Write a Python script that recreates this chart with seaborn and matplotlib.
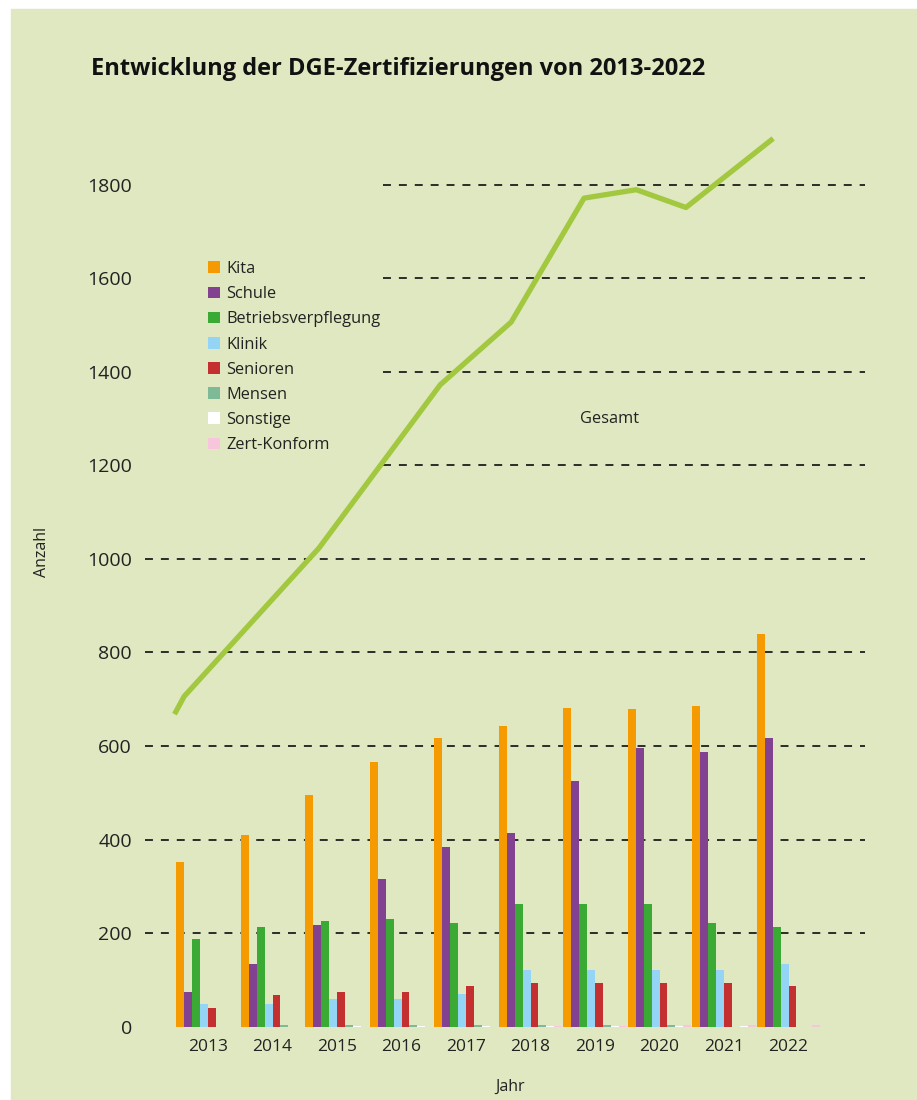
import pandas as pd
import matplotlib.pyplot as plt
import seaborn as sns
from matplotlib.patches import Rectangle

# Daten
jahre = ['2013', '2014', '2015', '2016', '2017', '2018', '2019', '2020', '2021', '2022']
kita = [352, 410, 495, 565, 617, 643, 681, 679, 685, 840]
schule = [74, 134, 217, 316, 384, 414, 526, 596, 587, 617]
betrieb = [187, 213, 226, 230, 222, 262, 262, 262, 222, 213]
klinik = [48, 48, 59, 59, 70, 121, 121, 121, 121, 133]
senioren = [40, 68, 74, 74, 87, 94, 94, 94, 94, 87]
mensen = [0, 4, 4, 4, 4, 4, 4, 4, 0, 0]
sonstige = [0, 0, 2, 2, 2, 2, 2, 2, 2, 0]
zert = [0, 0, 0, 0, 0, 2, 2, 3, 3, 3]

kategorien = ['Kita', 'Schule', 'Betriebsverpflegung', 'Klinik', 'Senioren',
              'Mensen', 'Sonstige', 'Zert-Konform']

# Gesamt-Linie: Stützpunkte (x in Kategorie-Einheiten, wie in der Vorlage gezeichnet)
gesamt_x = [-0.50, -0.37, 1.72, 3.60, 4.70, 5.83, 6.64, 7.41, 8.73]
gesamt_y = [673, 706, 1023, 1372, 1506, 1771, 1789, 1751, 1895]

farben = {
    'Kita': '#F59A00',
    'Schule': '#82428F',
    'Betriebsverpflegung': '#3BAA35',
    'Klinik': '#94D5F5',
    'Senioren': '#C4302F',
    'Mensen': '#7FBA98',
    'Sonstige': '#FFFFFF',
    'Zert-Konform': '#F7C6DD',
}

df = pd.DataFrame({
    'Jahr': jahre, 'Kita': kita, 'Schule': schule, 'Betriebsverpflegung': betrieb,
    'Klinik': klinik, 'Senioren': senioren, 'Mensen': mensen,
    'Sonstige': sonstige, 'Zert-Konform': zert,
})
df_long = df.melt(id_vars='Jahr', var_name='Kategorie', value_name='Anzahl')

bg = '#DFE8C0'
textfarbe = '#222222'
plt.rcParams['font.family'] = ['Open Sans', 'DejaVu Sans']

fig = plt.figure(figsize=(9.17, 11), dpi=100)
fig.patch.set_facecolor('white')
fig.add_artist(Rectangle((11 / 917, 0), 1, (1100 - 9) / 1100,
                         transform=fig.transFigure, color=bg, zorder=-10))

ax = fig.add_axes([145 / 917, (1100 - 1026.7) / 1100, 720 / 917, (1026.7 - 91) / 1100])
ax.set_facecolor('none')

sns.barplot(data=df_long, x='Jahr', y='Anzahl', hue='Kategorie', hue_order=kategorien,
            palette=farben, width=0.99, gap=0, saturation=1, ax=ax, zorder=2)

ax.set_ylim(0, 2000)
ax.set_xlim(-0.977, 10.186)

# gestrichelte Hilfslinien (oben links vom Legendenbereich ausgespart)
for wert in range(200, 1900, 200):
    start = (383 - 145) / 720 if wert >= 1200 else 0
    ax.axhline(wert, xmin=start, xmax=1.007, color='#1e1e1e', lw=1.3,
               dashes=(4.4, 4.4), zorder=1)

# Gesamt-Linie
sns.lineplot(x=gesamt_x, y=gesamt_y, sort=False, color='#A2C83F', lw=3.8,
             ax=ax, zorder=3)
ax.text(6.22, 1299, 'Gesamt', ha='center', va='center', fontsize=11.8, color=textfarbe)

# Achsen
for s in ax.spines.values():
    s.set_visible(False)
ax.set_yticks(range(0, 1900, 200))
ax.tick_params(axis='y', length=0, pad=9.4, labelsize=14, labelcolor=textfarbe)
ax.tick_params(axis='x', length=0, pad=8.5, labelsize=12.5, labelcolor=textfarbe)
ax.set_ylabel('Anzahl', fontsize=11.5, color=textfarbe)
ax.yaxis.set_label_coords(-0.132, 0.507)
ax.set_xlabel('Jahr', fontsize=11.5, color=textfarbe)
ax.xaxis.set_label_coords(0.507, -0.056)

# Legende
handles, labels = ax.get_legend_handles_labels()
ax.legend(handles, labels, loc='upper left',
          bbox_to_anchor=(208 / 917, 1 - 261 / 1100), bbox_transform=fig.transFigure,
          frameon=False, borderpad=0, borderaxespad=0, fontsize=11.8,
          handlelength=0.72, handleheight=0.72, handletextpad=0.4,
          labelspacing=0.56, labelcolor=textfarbe)

# Titel
fig.text(91 / 917, 1 - 69 / 1100, 'Entwicklung der DGE-Zertifizierungen von 2013-2022',
         fontsize=17, fontweight='bold', va='center', ha='left', color='#111111')

fig.savefig('out.png', dpi=100, facecolor=fig.get_facecolor())
